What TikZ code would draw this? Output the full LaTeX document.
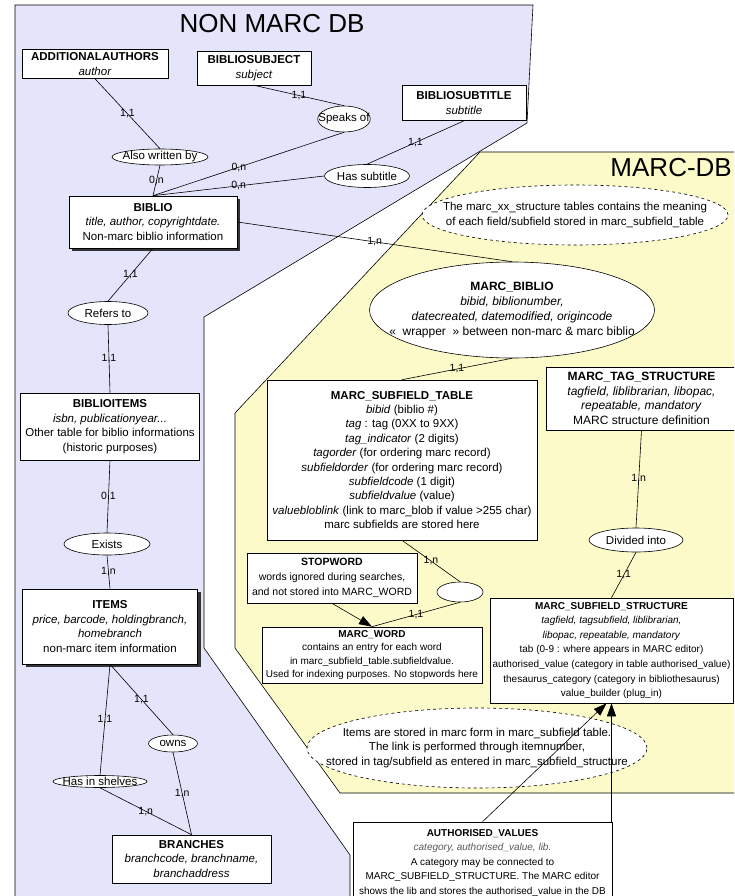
\documentclass[tikz,border=0pt]{standalone}
\usepackage{fontspec}
\setmainfont{Liberation Sans}
\usetikzlibrary{arrows.meta,shapes.geometric,shadows}

\definecolor{nonmarcblue}{RGB}{228,228,250}
\definecolor{marcyellow}{RGB}{252,250,200}

\tikzset{
  entity/.style={draw, fill=white, align=center, inner sep=1pt, line width=0.6pt,
    font=\fontsize{11.5}{14.5}\selectfont},
  heavy/.style={drop shadow={shadow xshift=3pt, shadow yshift=-3pt, fill=black!80, opacity=1}},
  relation/.style={ellipse, draw, fill=white, inner xsep=-7pt, inner ysep=-2pt, line width=0.6pt,
    font=\fontsize{11.5}{13}\selectfont},
  note/.style={ellipse, draw, fill=white, align=center, inner xsep=-60pt, inner ysep=-10pt,
    line width=0.6pt, font=\fontsize{11.5}{14.5}\selectfont},
  card/.style={inner sep=0pt, font=\fontsize{10.5}{11}\selectfont},
  link/.style={draw, line width=0.6pt},
  tip/.style={draw, line width=0.6pt, -{Triangle[length=13pt,width=9pt]}},
}

\begin{document}
\begin{tikzpicture}[x=1pt, y=-1pt]
  \useasboundingbox (0,0) rectangle (734,896);
  \clip (0,0) rectangle (734,896);

  % the two databases
  \filldraw[fill=nonmarcblue, line width=0.6pt] (15,5) -- (533,5) -- (527,123) -- (204,317)
    -- (204,648) -- (350,855) -- (350,905) -- (15,905) -- cycle;
  \filldraw[fill=marcyellow, line width=0.6pt] (480,152) -- (745,152) -- (745,793) -- (340,793)
    -- (235,648) -- (235,413) -- cycle;
  \node[font=\fontsize{26}{30}\selectfont, anchor=base, inner sep=0pt] (nonmarc) at (272,33) {NON MARC DB};
  \node[font=\fontsize{26}{30}\selectfont, anchor=base east, inner sep=0pt] (marc) at (732,177) {MARC-DB};

  % non marc side
  \node[entity, minimum width=146pt, minimum height=29pt] (aa) at (95,64)
    {\textbf{ADDITIONALAUTHORS}\\\textit{author}};
  \node[entity, minimum width=114pt, minimum height=34pt] (subj) at (254,68)
    {\textbf{BIBLIOSUBJECT}\\\textit{subject}};
  \node[entity, minimum width=124pt, minimum height=35pt] (subtitle) at (464,103)
    {\textbf{BIBLIOSUBTITLE}\\\textit{subtitle}};
  \node[relation, minimum width=96pt, minimum height=16pt] (also) at (160,157) {Also written by};
  \node[relation, minimum width=52pt, minimum height=26pt] (speaks) at (344,119) {Speaks of};
  \node[relation, minimum width=85pt, minimum height=23pt] (hassub) at (367,176) {Has subtitle};
  \node[entity, heavy, minimum width=168pt, minimum height=52pt] (biblio) at (153,222)
    {\textbf{BIBLIO}\\\textit{title, author, copyrightdate.}\\Non-marc biblio information};
  \node[relation, minimum width=80pt, minimum height=23pt] (refers) at (108,313) {Refers to};
  \node[entity, minimum width=179pt, minimum height=67pt] (bi) at (110,426.5)
    {\textbf{BIBLIOITEMS}\\\textit{isbn, publicationyear...}\\Other table for biblio informations\\(historic purposes)};
  \node[relation, minimum width=86pt, minimum height=22pt] (exists) at (107,544) {Exists};
  \node[entity, heavy, minimum width=175pt, minimum height=75pt] (items) at (110,626.5)
    {\textbf{ITEMS}\\\textit{price, barcode, holdingbranch,}\\\textit{homebranch}\\non-marc item information};
  \node[relation, minimum width=49pt, minimum height=17pt] (owns) at (173,743.5) {owns};
  \node[relation, minimum width=94pt, minimum height=12pt] (shelves) at (100,781.5) {Has in shelves};
  \node[entity, minimum width=159pt, minimum height=48pt] (branches) at (191.5,859)
    {\textbf{BRANCHES}\\\textit{branchcode, branchname,}\\\textit{branchaddress}};

  % marc side
  \node[note, dashed, minimum width=306pt, minimum height=60pt] (structnote) at (575,215)
    {The marc\_xx\_structure tables contains the meaning\\of each field/subfield stored in marc\_subfield\_table};
  \node[note, minimum width=285pt, minimum height=96pt, font=\fontsize{12}{15}\selectfont] (marcbiblio) at (512,310)
    {\textbf{MARC\_BIBLIO}\\\textit{bibid, biblionumber,}\\\textit{datecreated, datemodified, origincode}\\«~~wrapper~~» between non-marc \& marc biblio};
  \node[entity, minimum width=270pt, minimum height=160pt, font=\fontsize{11.5}{14.4}\selectfont] (mst) at (402,460)
    {\textbf{MARC\_SUBFIELD\_TABLE}\\\textit{bibid} (biblio \#)\\\textit{tag} : tag (0XX to 9XX)\\\textit{tag\_indicator} (2 digits)\\
     \textit{tagorder} (for ordering marc record)\\\textit{subfieldorder} (for ordering marc record)\\
     \textit{subfieldcode} (1 digit)\\\textit{subfieldvalue} (value)\\
     \textit{valuebloblink} (link to marc\_blob if value >255 char)\\marc subfields are stored here};
  \node[entity, minimum width=190pt, minimum height=63pt, font=\fontsize{12}{14.5}\selectfont] (mts) at (641.5,398.5)
    {\textbf{MARC\_TAG\_STRUCTURE}\\\textit{tagfield, liblibrarian, libopac,}\\\textit{repeatable, mandatory}\\MARC structure definition};
  \node[relation, minimum width=94pt, minimum height=24pt] (divided) at (636,540) {Divided into};
  \node[entity, minimum width=170pt, minimum height=50pt, font=\fontsize{10.5}{15}\selectfont] (stopword) at (332,578)
    {\textbf{STOPWORD}\\words ignored during searches,\\and not stored into MARC\_WORD};
  \node[relation, minimum width=46pt, minimum height=20pt] (dot) at (460,592) {};
  \node[entity, minimum width=220pt, minimum height=56pt, font=\fontsize{10}{13.3}\selectfont] (marcword) at (372,655)
    {\textbf{MARC\_WORD}\\contains an entry for each word\\in marc\_subfield\_table.subfieldvalue.\\Used for indexing purposes. No stopwords here};
  \node[entity, minimum width=243pt, minimum height=105pt, font=\fontsize{10}{14.6}\selectfont] (mss) at (611.5,650.5)
    {\textbf{MARC\_SUBFIELD\_STRUCTURE}\\\textit{tagfield, tagsubfield, liblibrarian,}\\\textit{libopac, repeatable, mandatory}\\
     tab (0-9 : where appears in MARC editor)\\authorised\_value (category in table authorised\_value)\\
     thesaurus\_category (category in bibliothesaurus)\\value\_builder (plug\_in)};
  \node[note, dashed, minimum width=340pt, minimum height=80pt] (itemsnote) at (477,748)
    {Items are stored in marc form in marc\_subfield table.\\The link is performed through itemnumber,\\stored in tag/subfield as entered in marc\_subfield\_structure};
  \node[entity, minimum width=259pt, minimum height=81pt, font=\fontsize{10}{14.5}\selectfont] (av) at (482.5,862.5)
    {\textbf{AUTHORISED\_VALUES}\\\textcolor{black!65}{\textit{category, authorised\_value, lib.}}\\A category may be connected to\\
     MARC\_SUBFIELD\_STRUCTURE. The MARC editor\\shows the lib and stores the authorised\_value in the DB};

  \path[link]
    (aa.south) edge node[card] {1,1} (also.north)
    (also.south) edge node[card] {0,n} (biblio.north)
    (subj.south) edge node[card] {1,1} (speaks.north)
    (speaks.south) edge node[card,pos=0.55] {0,n} (biblio.north)
    (hassub.west) edge node[card] {0,n} (biblio.north)
    (subtitle.south) edge node[card] {1,1} (hassub.north)
    (biblio.east) edge node[card] {1,n} (marcbiblio.north)
    (biblio.south) edge node[card] {1,1} (refers.north)
    (refers.south) edge node[card] {1,1} (bi.north)
    (bi.south) edge node[card] {0,1} (exists.north)
    (exists.south) edge node[card] {1,n} (items.north)
    (items.south) edge node[card] {1,1} (shelves.north)
    (items.south) edge node[card] {1,1} (owns.north)
    (owns.south) edge node[card] {1,n} (branches.north)
    (shelves.south) edge node[card] {1,n} (branches.north)
    (marcbiblio.south) edge node[card] {1,1} (mst.north)
    (mst.south) edge node[card] {1,n} (dot.north)
    (dot.south) edge node[card] {1,1} (marcword.north)
    (mts.south) edge node[card] {1,n} (divided.north)
    (divided.south) edge node[card] {1,1} (mss.north);

  \draw[tip] (stopword.south) -- (marcword.north);
  \draw[tip] (av.north) -- ([xshift=-5pt]mss.south);
  \draw[tip] (mss.south |- av.north) -- (mss.south);
\end{tikzpicture}
\end{document}
